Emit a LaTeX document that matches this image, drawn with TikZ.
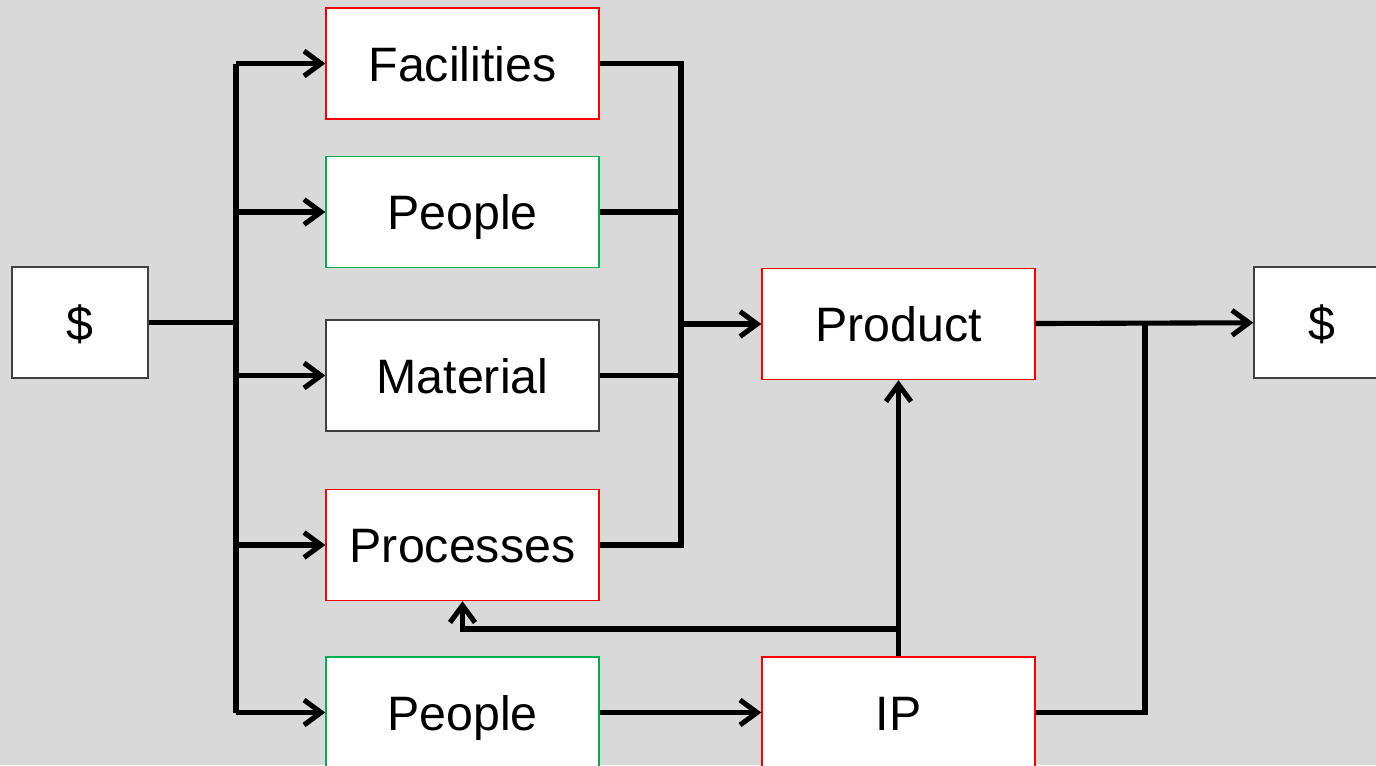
\documentclass[tikz,border=0pt]{standalone}
\usepackage{fontspec}
\setmainfont{Liberation Sans}
\usetikzlibrary{arrows.meta,positioning,calc}
\definecolor{boxred}{HTML}{FF0000}
\definecolor{boxgreen}{HTML}{00B050}
\definecolor{boxgray}{HTML}{404040}
\definecolor{canvas}{HTML}{D9D9D9}
\tikzset{
	line/.style = {line width=2.9pt, black},
	flow/.style = {line, -{Straight Barb[length=0.34cm,width=0.5cm,line width=2.9pt]}},
	block/.style = {rectangle, draw, fill=white, line width=0.8pt, inner sep=0pt,
		text height=20pt, text depth=0pt,
		minimum width=5.46cm, minimum height=2.22cm, font=\fontsize{27.5}{33}\selectfont},
	cash/.style = {block, draw=boxgray, minimum width=2.72cm}
}

\begin{document}
\begin{tikzpicture}[x=0.02cm,y=-0.02cm]
	\fill[canvas] (0,0) rectangle (1376,765);
	\useasboundingbox (0,0) rectangle (1376,765);
	% inputs and outputs
	\node[cash] (dollarL) at (80,322.5) {\$};
	\node[cash] (dollarR) at (1322,322.5) {\$};
	\node[block,draw=boxred] (facilities) at (462.5,63.5) {Facilities};
	\node[block,draw=boxgreen] (people1) at (462.5,212) {People};
	\node[block,draw=boxgray] (material) at (462.5,375.5) {Material};
	\node[block,draw=boxred] (processes) at (462.5,545) {Processes};
	\node[block,draw=boxgreen] (people2) at (462.5,712.5) {People};
	\node[block,draw=boxred] (product) at (898.5,324) {Product};
	\node[block,draw=boxred] (ip) at (898.5,712.5) {IP};
	% bus lines
	\coordinate (busL) at (236,322.5);
	\coordinate (busR) at (681,324);
	\coordinate (join) at (1145,324);
	\coordinate (tap) at (898.5,629);
	\draw[line] (dollarL) -- (busL);
	\draw[line] (busL |- facilities) -- (busL |- people2);
	\draw[flow] (busL |- facilities) -- (facilities);
	\draw[flow] (busL |- people1) -- (people1);
	\draw[flow] (busL |- material) -- (material);
	\draw[flow] (busL |- processes) -- (processes);
	\draw[flow] (busL |- people2) -- (people2);
	\draw[line] (facilities.east) -| (busR |- processes) -- (processes.east);
	\draw[line] (people1.east) -- (busR |- people1);
	\draw[line] (material.east) -- (busR |- material);
	\draw[flow] (busR) -- (product);
	\draw[flow] (people2) -- (ip);
	\draw[flow] (ip) -- (product);
	\draw[flow] (tap) -| (processes.south);
	\draw[flow] (product) -- (dollarR);
	\draw[line] (ip.east) -| (join);
\end{tikzpicture}
\end{document}
